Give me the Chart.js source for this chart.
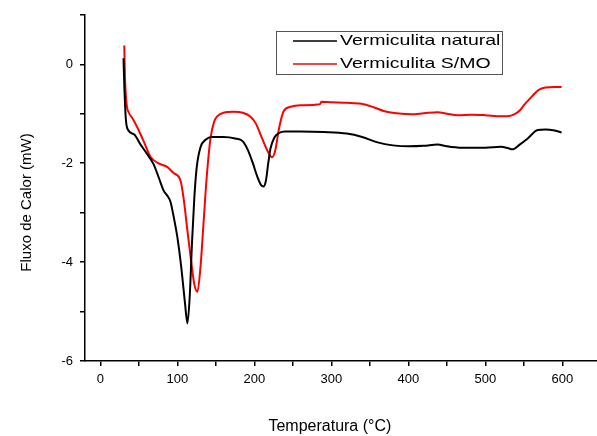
<!DOCTYPE html>
<html>
<head>
<meta charset="utf-8">
<script src="https://cdn.jsdelivr.net/npm/chart.js@4/dist/chart.umd.min.js"></script>
<style>
  html, body { margin: 0; padding: 0; background: #fff; }
  #wrap { width: 597px; height: 436px; }
</style>
</head>
<body>
<div id="wrap"><canvas id="dsc" width="597" height="436"></canvas></div>
<script>
// Vermiculita natural (black curve)
const tempNatural = [30, 31, 33, 36, 44, 52, 60, 69, 76, 82, 87, 91, 96, 100, 105, 110, 113, 116, 119, 122, 125, 130, 137, 145, 160, 175, 185, 192, 198, 204, 209, 212, 215, 218, 221, 226, 232, 240, 260, 290, 320, 340, 360, 380, 400, 420, 438, 450, 470, 500, 520, 530, 535, 545, 555, 568, 578, 590, 599];
const fluxNatural = [0.12, -0.4, -1.1, -1.33, -1.42, -1.62, -1.8, -2.02, -2.3, -2.55, -2.66, -2.78, -3.15, -3.5, -4.1, -4.85, -5.24, -4.7, -3.6, -2.7, -2.1, -1.68, -1.52, -1.47, -1.47, -1.5, -1.56, -1.75, -2.0, -2.28, -2.45, -2.47, -2.35, -2.0, -1.7, -1.48, -1.39, -1.36, -1.36, -1.37, -1.4, -1.47, -1.58, -1.64, -1.66, -1.65, -1.62, -1.66, -1.69, -1.69, -1.67, -1.7, -1.72, -1.62, -1.5, -1.33, -1.32, -1.34, -1.38];

// Vermiculita S/MO (red curve)
const tempSMO = [31, 32, 34, 37, 42, 48, 56, 65, 75, 87, 95, 104, 108, 113, 118, 122, 126, 130, 134, 138, 143, 148, 152, 160, 173, 185, 195, 202, 210, 218, 223, 227, 232, 238, 247, 260, 285, 287, 300, 320, 339, 355, 369, 385, 404, 420, 438, 450, 464, 482, 500, 520, 529, 538, 545, 551, 560, 569, 578, 590, 599];
const fluxSMO = [0.38, -0.3, -0.8, -0.98, -1.1, -1.28, -1.55, -1.87, -2.0, -2.08, -2.2, -2.35, -2.7, -3.36, -4.0, -4.45, -4.6, -4.1, -3.2, -2.3, -1.5, -1.15, -1.05, -0.98, -0.96, -0.98, -1.06, -1.2, -1.5, -1.78, -1.88, -1.75, -1.3, -0.95, -0.86, -0.83, -0.81, -0.76, -0.77, -0.78, -0.8, -0.87, -0.95, -0.99, -1.01, -0.99, -0.97, -1.0, -1.03, -1.02, -1.03, -1.05, -1.05, -1.01, -0.93, -0.81, -0.66, -0.52, -0.47, -0.46, -0.46];

const seriesNames = ['Vermiculita natural', 'Vermiculita S/MO'];
const seriesColors = ['#000000', '#ff0000'];

const fontFamily = '"Liberation Sans", Arial, sans-serif';

function toPoints(xs, ys) {
    return xs.map(function (x, i) { return { x: x, y: ys[i] }; });
}

// caixa da legenda desenhada a mao (texto um pouco esticado como no original)
const boxLegend = {
    id: 'boxLegend',
    afterDraw: function (chart) {
        const ctx = chart.ctx;
        const x0 = 276, y0 = 31, w = 226, h = 43;
        ctx.save();
        ctx.strokeStyle = '#555';
        ctx.lineWidth = 1;
        ctx.strokeRect(x0 + 0.5, y0 + 0.5, w, h);
        ctx.textBaseline = 'middle';
        chart.data.datasets.forEach(function (ds, i) {
            const y = y0 + 10 + i * 23;
            ctx.strokeStyle = ds.borderColor;
            ctx.lineWidth = 1.5;
            ctx.beginPath();
            ctx.moveTo(x0 + 17, y);
            ctx.lineTo(x0 + 61, y);
            ctx.stroke();
            ctx.save();
            ctx.translate(x0 + 64, y);
            ctx.scale(1.3, 1);
            ctx.font = '15px ' + fontFamily;
            ctx.fillStyle = '#000';
            ctx.fillText(ds.label, 0, 0);
            ctx.restore();
        });
        ctx.restore();
    }
};

new Chart(document.getElementById('dsc'), {
    type: 'scatter',
    data: {
        datasets: [
            {
                label: seriesNames[0],
                data: toPoints(tempNatural, fluxNatural),
                showLine: true,
                borderColor: seriesColors[0],
                borderWidth: 2,
                pointRadius: 0,
                cubicInterpolationMode: 'monotone'
            },
            {
                label: seriesNames[1],
                data: toPoints(tempSMO, fluxSMO),
                showLine: true,
                borderColor: seriesColors[1],
                borderWidth: 2,
                pointRadius: 0,
                cubicInterpolationMode: 'monotone'
            }
        ]
    },
    options: {
        responsive: false,
        animation: false,
        layout: { padding: { top: 14, right: 0, left: 0, bottom: 0 } },
        plugins: {
            legend: { display: false },
            tooltip: { enabled: false }
        },
        scales: {
            x: {
                type: 'linear',
                min: -20,
                max: 645,
                afterFit: function (scale) { scale.height = 75; },
                border: { display: true, color: '#000', width: 1.5 },
                grid: { drawOnChartArea: false, drawTicks: true, tickLength: 5, color: '#000', lineWidth: 1.5 },
                ticks: {
                    stepSize: 50,
                    includeBounds: false,
                    autoSkip: false,
                    maxRotation: 0,
                    padding: 6,
                    color: '#000',
                    font: { family: fontFamily, size: 13 },
                    callback: function (v) { return v % 100 === 0 ? String(v) : ''; }
                },
                title: {
                    display: true,
                    // espacos no fim para deslocar o titulo um pouco para a esquerda
                    text: 'Temperatura (°C)     ',
                    color: '#000',
                    font: { family: fontFamily, size: 16 },
                    padding: { top: 0, bottom: 0 }
                }
            },
            y: {
                type: 'linear',
                min: -6,
                max: 1,
                afterFit: function (scale) { scale.width = 85; },
                border: { display: true, color: '#000', width: 1.5 },
                grid: { drawOnChartArea: false, drawTicks: true, tickLength: 5, color: '#000', lineWidth: 1.5 },
                ticks: {
                    stepSize: 1,
                    autoSkip: false,
                    padding: 7,
                    color: '#000',
                    font: { family: fontFamily, size: 13 },
                    callback: function (v) { return v % 2 === 0 ? String(v) : ''; }
                },
                title: {
                    display: true,
                    text: 'Fluxo de Calor (mW)       ',
                    color: '#000',
                    font: { family: fontFamily, size: 15 },
                    padding: { top: 18, bottom: 0 }
                }
            }
        }
    },
    plugins: [boxLegend]
});
</script>
</body>
</html>
